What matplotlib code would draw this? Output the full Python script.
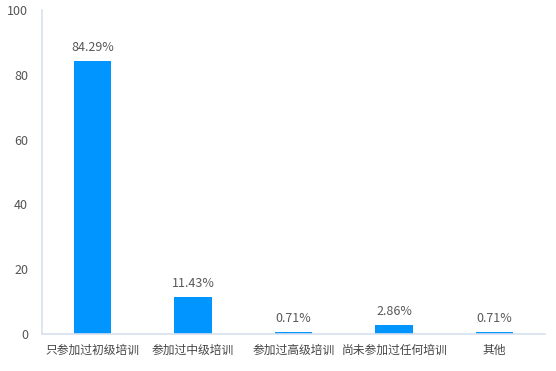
import matplotlib
matplotlib.use("Agg")
import matplotlib.pyplot as plt

plt.rcParams['font.family'] = ['Noto Sans CJK SC', 'DejaVu Sans']

categories = ["只参加过初级培训", "参加过中级培训", "参加过高级培训", "尚未参加过任何培训", "其他"]
values = [84.29, 11.43, 0.71, 2.86, 0.71]
labels = ["84.29%", "11.43%", "0.71%", "2.86%", "0.71%"]
yticks = [0, 20, 40, 60, 80, 100]

fig = plt.figure(figsize=(5.56, 3.71), dpi=100)
ax = fig.add_axes([42/556, 37/371, 503/556, 324/371])
x = list(range(len(categories)))
bars = ax.bar(x, values, width=0.37, color="#0095FF", zorder=2)
for b, lab in zip(bars, labels):
    ax.text(b.get_x() + b.get_width()/2, b.get_height() + 2.2, lab,
            ha="center", va="bottom", fontsize=9, color="#595959")
ax.set_xlim(-0.5, 4.5)
ax.set_ylim(0, 100)
ax.set_yticks(yticks)
ax.set_xticks(x)
ax.set_xticklabels(categories, fontsize=8.5, color="#444444")
ax.tick_params(axis="y", length=0, labelsize=9, labelcolor="#555555", pad=10)
ax.tick_params(axis="x", length=0, pad=7)
for s in ["top", "right"]:
    ax.spines[s].set_visible(False)
for s in ["left", "bottom"]:
    ax.spines[s].set_color("#D6E0EE")
    ax.spines[s].set_linewidth(1.2)
fig.savefig("out.png", dpi=100)
